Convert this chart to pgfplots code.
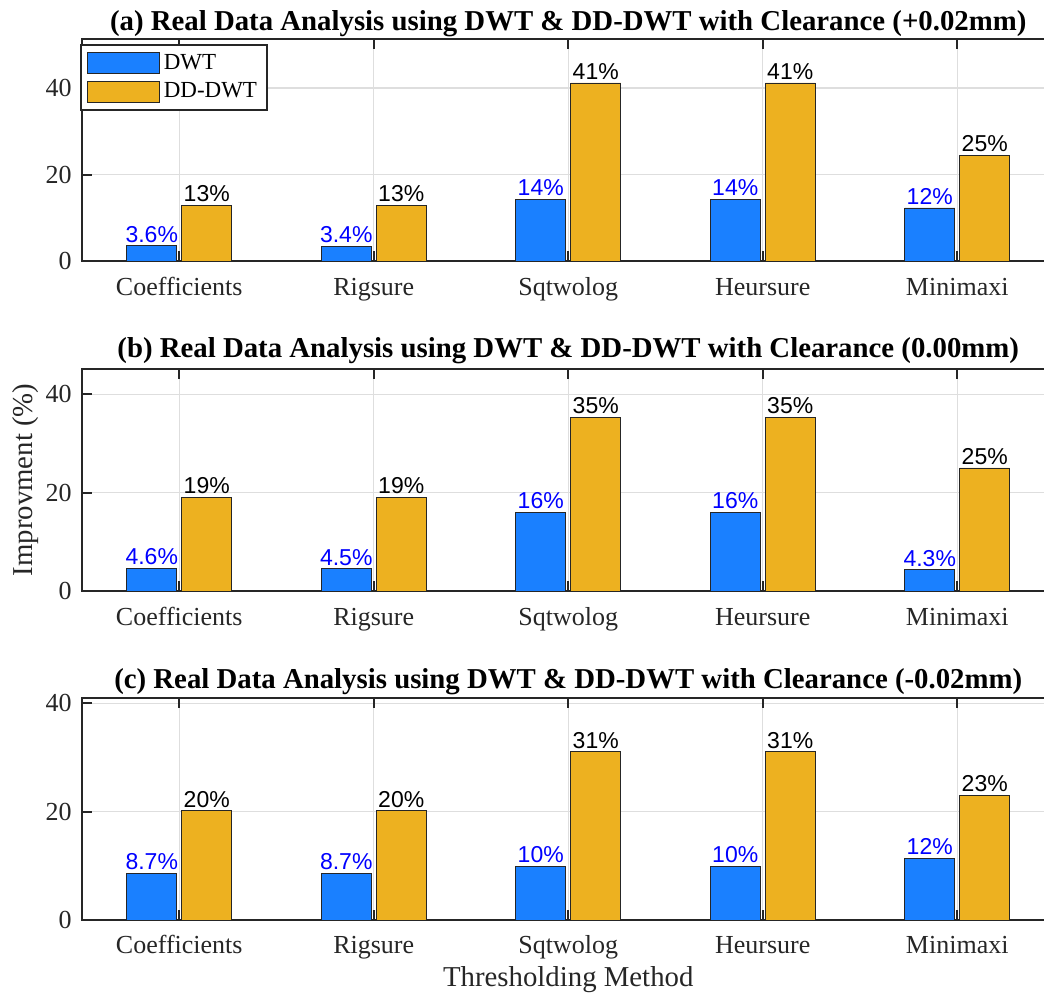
\documentclass[border=0pt]{standalone}
\usepackage{fontspec}
\setmainfont{Liberation Serif}
\newfontfamily\arialfont{Liberation Sans}
\usepackage{pgfplots}
\pgfplotsset{compat=1.18}
\definecolor{dwtblue}{RGB}{26,128,255}
\definecolor{ddgold}{RGB}{237,177,32}
\definecolor{axisgray}{RGB}{38,38,38}
\definecolor{gridgray}{RGB}{222,222,222}
\definecolor{lblblue}{RGB}{0,0,255}
\pgfplotsset{
  panel/.style={
    scale only axis, width=486.25pt, height=111pt,
    anchor=north west,
    xmin=0.5, xmax=5.5, ymin=0,
    xtick={1,2,3,4,5},
    xticklabels={Coefficients,Rigsure,Sqtwolog,Heursure,Minimaxi},
    ytick={0,20,40},
    /pgf/number format/assume math mode=true,
    tick align=inside, major tick length=5pt,
    axis line style={draw=axisgray, line width=1pt},
    every tick/.style={draw=axisgray, line width=1pt},
    grid=major, major grid style={draw=gridgray, line width=0.6pt},
    tick label style={font=\fontsize{13}{15}\selectfont, text=axisgray},
    xticklabel style={anchor=base, yshift=-17pt},
    yticklabel style={anchor=east, xshift=-1.7pt},
    every axis title/.style={font=\bfseries\fontsize{14.4}{16}\selectfont, at={(0.5,1)}, anchor=base, text=black},
    point meta=explicit symbolic,
    nodes near coords,
    nodes near coords style={anchor=base, yshift=1.8pt, inner sep=0pt, font=\arialfont\fontsize{11.5}{13}\selectfont},
    legend image code/.code={\draw[#1] (0pt,-5.25pt) rectangle (36pt,5.25pt);},
  },
  dwt/.style={ybar, bar width=25pt, bar shift=-13.75pt, fill=dwtblue, draw=black!85, line width=0.4pt,
    nodes near coords style={text=lblblue, xshift=-13.75pt}},
  dd/.style={ybar, bar width=25pt, bar shift=13.75pt, fill=ddgold, draw=black!85, line width=0.4pt,
    nodes near coords style={text=black, xshift=13.75pt}},
}
\begin{document}
\begin{tikzpicture}
% (a)
\begin{axis}[panel, at={(41pt,-19.6pt)}, ymax=51.3,
  title={(a) Real Data Analysis using DWT \& DD-DWT with Clearance (+0.02mm)},
  title style={yshift=4.5pt},
  legend style={at={(0,1)}, anchor=north west, xshift=-1pt, yshift=-2.5pt,
    draw=axisgray, line width=1pt, font=\fontsize{11.5}{13}\selectfont,
    inner xsep=3pt, inner ysep=2.5pt, row sep=1.2pt, legend cell align=left},
  ]
\addplot[dwt] coordinates {(1,3.6)[3.6\%] (2,3.4)[3.4\%] (3,14.3)[14\%] (4,14.3)[14\%] (5,12.3)[12\%]};
\addplot[dd] coordinates {(1,12.9)[13\%] (2,12.9)[13\%] (3,41.2)[41\%] (4,41.2)[41\%] (5,24.5)[25\%]};
\legend{DWT,DD-DWT}
\end{axis}
% (b)
\begin{axis}[panel, at={(41pt,-184.5pt)}, ymax=45.1,
  title={(b) Real Data Analysis using DWT \& DD-DWT with Clearance (0.00mm)},
  title style={yshift=5.5pt},
  ylabel={Improvment (\%)},
  ylabel style={at={(axis description cs:-0.0514,0.5)}, anchor=base, rotate=0, font=\fontsize{14.4}{16}\selectfont, text=axisgray},
  ]
\addplot[dwt] coordinates {(1,4.6)[4.6\%] (2,4.5)[4.5\%] (3,16.0)[16\%] (4,16.0)[16\%] (5,4.3)[4.3\%]};
\addplot[dd] coordinates {(1,19.0)[19\%] (2,19.0)[19\%] (3,35.3)[35\%] (4,35.3)[35\%] (5,25.0)[25\%]};
\end{axis}
% (c)
\begin{axis}[panel, at={(41pt,-349pt)}, ymax=41.0,
  title={(c) Real Data Analysis using DWT \& DD-DWT with Clearance (-0.02mm)},
  title style={yshift=4.7pt},
  xlabel={Thresholding Method},
  xlabel style={at={(axis description cs:0.5,0)}, anchor=base, yshift=-33.5pt, font=\fontsize{14.4}{16}\selectfont, text=axisgray},
  ]
\addplot[dwt] coordinates {(1,8.6)[8.7\%] (2,8.6)[8.7\%] (3,9.9)[10\%] (4,9.9)[10\%] (5,11.4)[12\%]};
\addplot[dd] coordinates {(1,20.2)[20\%] (2,20.2)[20\%] (3,31.1)[31\%] (4,31.1)[31\%] (5,23.0)[23\%]};
\end{axis}
\pgfresetboundingbox
\path[use as bounding box] (0,0) rectangle (522pt,-497pt);
\end{tikzpicture}
\end{document}
